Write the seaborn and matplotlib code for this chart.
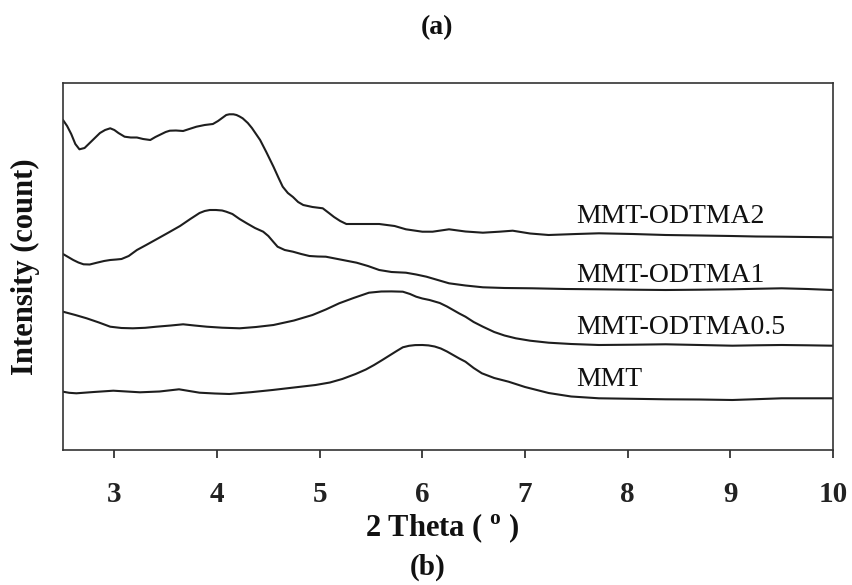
import matplotlib
matplotlib.use("Agg")
import matplotlib.pyplot as plt
import seaborn as sns
import pandas as pd

# ---------------- data ----------------
theta_odtma2 = [2.50, 2.54, 2.58, 2.62, 2.66, 2.71, 2.76, 2.81, 2.86, 2.91, 2.96, 3.00,
                3.04, 3.10, 3.16, 3.22, 3.28, 3.35, 3.40, 3.44, 3.50, 3.54, 3.60, 3.67,
                3.73, 3.80, 3.88, 3.96, 4.01, 4.05, 4.09, 4.12, 4.16, 4.19, 4.22, 4.25,
                4.30, 4.34, 4.38, 4.42, 4.48, 4.55, 4.60, 4.64, 4.69, 4.74, 4.79, 4.84,
                4.93, 5.03, 5.09, 5.14, 5.20, 5.26, 5.40, 5.58, 5.73, 5.84, 6.00, 6.10,
                6.26, 6.42, 6.59, 6.75, 6.88, 7.05, 7.23, 7.50, 7.72, 8.05, 8.37, 8.70,
                9.01, 9.25, 9.50, 9.75, 10.00]
int_odtma2 = [330, 324, 316, 306, 300.7, 302, 307, 312, 317, 320, 321.7, 320,
              317, 313.3, 312.5, 312.5, 311, 310, 313, 315, 318, 319.3, 319.5, 319,
              321, 323.3, 325, 326, 329, 332, 335, 335.7, 335.7, 335, 333.5, 331.7,
              327, 322, 316, 310, 298, 283.3, 272, 263.3, 257, 253, 248, 245,
              243, 241.7, 237, 233, 229, 226, 226, 226, 224, 220.7, 218.3, 218.3,
              220.7, 218.5, 217.3, 218.3, 219.3, 216.5, 215, 216, 216.7, 216, 215, 214.5,
              214, 213.5, 213.3, 213, 212.7]

theta_odtma1 = [2.50, 2.55, 2.60, 2.65, 2.70, 2.76, 2.83, 2.90, 2.96, 3.02, 3.07, 3.14,
                3.22, 3.31, 3.41, 3.52, 3.64, 3.74, 3.83, 3.88, 3.93, 3.99, 4.05, 4.09,
                4.15, 4.22, 4.29, 4.37, 4.45, 4.50, 4.55, 4.59, 4.66, 4.74, 4.82, 4.90,
                4.98, 5.06, 5.20, 5.36, 5.47, 5.58, 5.70, 5.84, 5.94, 6.04, 6.15, 6.26,
                6.42, 6.59, 6.80, 7.07, 7.40, 7.72, 8.05, 8.37, 8.70, 9.02, 9.25, 9.50,
                9.75, 10.00]
int_odtma1 = [196, 193, 190, 187.5, 185.7, 185.5, 187.3, 189, 190, 190.5, 191, 194,
              200, 205, 210.7, 217, 224, 231, 237, 239, 240, 240, 239.5, 238.3,
              236, 231, 226.7, 222, 218.3, 214, 208, 203.3, 200, 198.3, 196, 194,
              193.5, 193.3, 190.5, 187.3, 184, 180, 178, 177.3, 175.5, 173.3, 170, 166.7,
              164.5, 162.7, 162, 161.7, 161, 160.7, 160.3, 160, 160.3, 160.7, 161.2, 161.7,
              161, 160]

theta_odtma05 = [2.50, 2.62, 2.73, 2.85, 2.96, 3.07, 3.18, 3.30, 3.41, 3.55, 3.67, 3.78,
                 3.90, 4.05, 4.22, 4.38, 4.55, 4.75, 4.93, 5.06, 5.19, 5.33, 5.48, 5.60,
                 5.70, 5.81, 5.88, 5.94, 6.00, 6.07, 6.12, 6.17, 6.24, 6.30, 6.36, 6.42,
                 6.50, 6.59, 6.70, 6.80, 6.91, 7.05, 7.23, 7.45, 7.72, 8.05, 8.37, 8.70,
                 9.02, 9.25, 9.50, 9.75, 10.00]
int_odtma05 = [138.3, 135, 131.7, 127.5, 123.3, 122, 121.7, 122.2, 123.3, 124.5, 125.7, 124.5,
               123.3, 122.3, 121.7, 123, 125, 129.5, 135, 140.5, 146.7, 152, 157.3, 158.5,
               158.6, 158.3, 156, 153.3, 151.5, 150, 148.5, 147, 143.5, 140, 136.5, 133.3,
               128, 123.3, 118, 114.5, 111.7, 109.3, 107.3, 106, 105, 105.3, 105.7, 105,
               104.3, 104.7, 105, 104.7, 104.3]

theta_mmt = [2.50, 2.56, 2.63, 2.80, 2.99, 3.12, 3.25, 3.44, 3.63, 3.73, 3.83, 3.98,
             4.12, 4.33, 4.54, 4.75, 4.96, 5.10, 5.22, 5.35, 5.45, 5.53, 5.61, 5.68,
             5.75, 5.81, 5.87, 5.93, 6.00, 6.06, 6.12, 6.18, 6.24, 6.30, 6.36, 6.42,
             6.50, 6.58, 6.70, 6.84, 7.00, 7.23, 7.45, 7.72, 8.05, 8.37, 8.70, 9.02,
             9.25, 9.50, 9.75, 10.00]
int_mmt = [58.3, 57.2, 56.7, 58, 59.3, 58.5, 57.7, 58.5, 60.7, 59, 57.3, 56.5,
           56, 57.8, 60, 62.5, 65, 67.5, 71, 76, 80.5, 85, 90, 94.5,
           99, 102.7, 104.2, 104.9, 105, 104.6, 103.5, 101.5, 98.5, 95, 91.5, 88.3,
           82, 76.7, 72, 68.3, 63, 57, 53.5, 51.7, 51.2, 50.7, 50.5, 50,
           50.8, 51.7, 51.7, 51.7]

series_names = ["MMT-ODTMA2", "MMT-ODTMA1", "MMT-ODTMA0.5", "MMT"]
label_x = 7.5
label_y = [233.3, 175, 122, 71]
x_ticks = [3, 4, 5, 6, 7, 8, 9, 10]

# ---------------- style ----------------
sns.set_theme(style="white")
plt.rcParams['font.family'] = ['Liberation Serif', 'DejaVu Serif']
plt.rcParams['mathtext.fontset'] = 'custom'
plt.rcParams['mathtext.rm'] = 'Liberation Serif'
plt.rcParams['mathtext.bf'] = 'Liberation Serif:bold'

fig = plt.figure(figsize=(8.53, 5.85), dpi=100)
ax = fig.add_axes([63 / 853, 1 - 450 / 585, 770 / 853, 367 / 585])

line_color = "#1e1e1e"
data_sets = [(theta_odtma2, int_odtma2), (theta_odtma1, int_odtma1),
             (theta_odtma05, int_odtma05), (theta_mmt, int_mmt)]
for name, (tx, iy) in zip(series_names, data_sets):
    df = pd.DataFrame({"theta": tx, "intensity": iy})
    sns.lineplot(data=df, x="theta", y="intensity", ax=ax, color=line_color,
                 linewidth=1.5, estimator=None)

for name, ly in zip(series_names, label_y):
    ax.text(label_x, ly, name, fontsize=20, ha="left", va="center", color="#111111")

ax.set_xlim(2.5, 10)
ax.set_ylim(0, 367)
ax.set_xticks(x_ticks)
ax.set_xticklabels([str(t) for t in x_ticks], fontweight="bold")
ax.set_yticks([])
ax.tick_params(axis="x", direction="out", length=6, width=1.2, pad=16,
               labelsize=21, colors="#222222", bottom=True)
for s in ax.spines.values():
    s.set_color("#333333")
    s.set_linewidth(1.2)
    s.set_visible(True)

ax.set_xlabel(r"2 Theta ( $^{\mathbf{o}}$ )", fontsize=22, fontweight="bold", color="#111111")
ax.xaxis.set_label_coords((442 - 63) / 770, (450 - 511) / 367)
ax.xaxis.label.set_va("top")
ax.set_ylabel("Intensity (count)", fontsize=22, fontweight="bold", color="#111111")
ax.yaxis.set_label_coords((40 - 63) / 770, 0.5)

fig.text(437 / 853, 1 - 28 / 585, "(a)", fontsize=20, fontweight="bold",
         ha="center", va="center", color="#111111")
fig.text(428 / 853, 1 - 567 / 585, "(b)", fontsize=21, fontweight="bold",
         ha="center", va="center", color="#111111")

fig.savefig("out.png", dpi=100)
